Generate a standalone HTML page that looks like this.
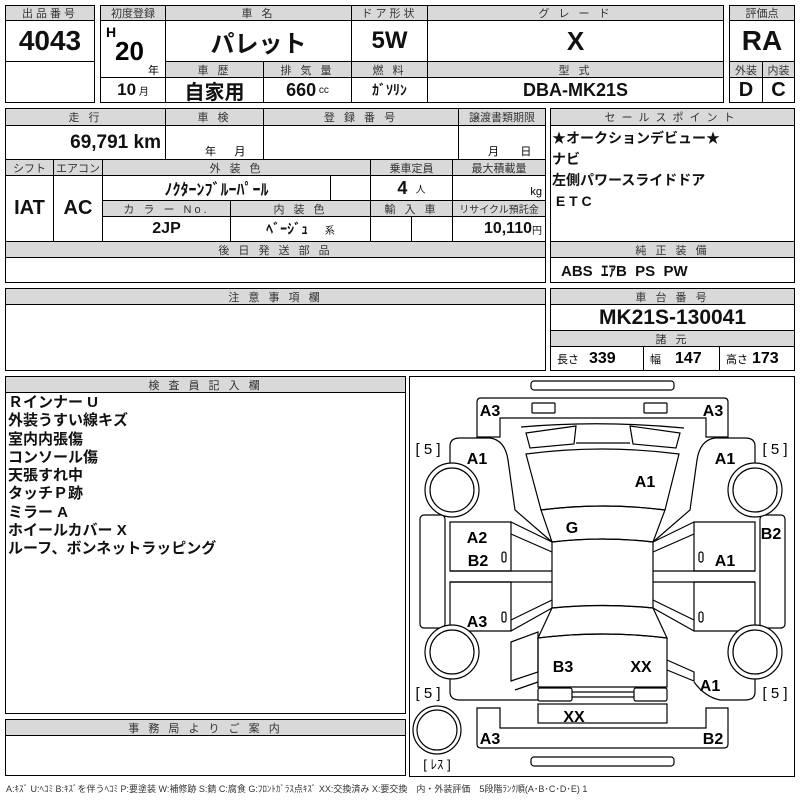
<!DOCTYPE html>
<html><head><meta charset="utf-8"><style>
body{margin:0;width:800px;height:800px;background:#fff;position:relative;overflow:hidden;font-family:"Liberation Sans","Noto Sans CJK JP",sans-serif;}
.c{position:absolute;border:1.5px solid #000;box-sizing:border-box;display:flex;align-items:center;justify-content:center;white-space:nowrap;}
.h{background:#d9d9d9;font-size:11px;color:#333;letter-spacing:3px;}
.v{font-weight:bold;font-size:20px;color:#111;}
.t{position:absolute;white-space:nowrap;}
.b{font-weight:bold;}
</style></head><body>
<!-- top left -->
<div class="c h" style="left:5px;top:5px;width:90px;height:16px">出品番号</div>
<div class="c v" style="left:5px;top:20px;width:90px;height:42px;font-size:28px">4043</div>
<div class="c" style="left:5px;top:61px;width:90px;height:42px"></div>
<!-- second box -->
<div class="c h" style="left:100px;top:5px;width:66px;height:16px;letter-spacing:0">初度登録</div>
<div class="c h" style="left:165px;top:5px;width:187px;height:16px">車 名</div>
<div class="c h" style="left:351px;top:5px;width:77px;height:16px">ドア形状</div>
<div class="c h" style="left:427px;top:5px;width:297px;height:16px">グ レ ー ド</div>
<div class="c" style="left:100px;top:20px;width:66px;height:58px"></div>
<div class="t b" style="left:106px;top:24px;font-size:14px">H</div>
<div class="t b" style="left:115px;top:36px;font-size:26px">20</div>
<div class="t" style="left:148px;top:62px;font-size:11px">年</div>
<div class="c v" style="left:165px;top:20px;width:187px;height:42px;font-size:24px">パレット</div>
<div class="c v" style="left:351px;top:20px;width:77px;height:42px;font-size:24px">5W</div>
<div class="c v" style="left:427px;top:20px;width:297px;height:42px;font-size:26px">X</div>
<div class="c h" style="left:165px;top:61px;width:99px;height:17px">車 歴</div>
<div class="c h" style="left:263px;top:61px;width:89px;height:17px">排 気 量</div>
<div class="c h" style="left:351px;top:61px;width:77px;height:17px">燃 料</div>
<div class="c h" style="left:427px;top:61px;width:297px;height:17px">型 式</div>
<div class="c v" style="left:100px;top:77px;width:66px;height:26px;font-size:17px">10<span style="font-size:10px;font-weight:normal">&nbsp;月</span></div>
<div class="c v" style="left:165px;top:77px;width:99px;height:26px;font-size:20px">自家用</div>
<div class="c v" style="left:263px;top:77px;width:89px;height:26px;font-size:18px">660<span style="font-size:10px;font-weight:normal">&nbsp;cc</span></div>
<div class="c v" style="left:351px;top:77px;width:77px;height:26px;font-size:14px">ｶﾞｿﾘﾝ</div>
<div class="c v" style="left:427px;top:77px;width:297px;height:26px;font-size:18px">DBA-MK21S</div>
<!-- score -->
<div class="c h" style="left:729px;top:5px;width:66px;height:16px;letter-spacing:0">評価点</div>
<div class="c v" style="left:729px;top:20px;width:66px;height:42px;font-size:28px">RA</div>
<div class="c h" style="left:729px;top:61px;width:34px;height:17px;letter-spacing:0">外装</div>
<div class="c h" style="left:762px;top:61px;width:33px;height:17px;letter-spacing:0">内装</div>
<div class="c v" style="left:729px;top:77px;width:34px;height:26px">D</div>
<div class="c v" style="left:762px;top:77px;width:33px;height:26px">C</div>
<!-- second block -->
<div class="c h" style="left:5px;top:108px;width:161px;height:18px">走 行</div>
<div class="c h" style="left:165px;top:108px;width:99px;height:18px">車 検</div>
<div class="c h" style="left:263px;top:108px;width:196px;height:18px">登 録 番 号</div>
<div class="c h" style="left:458px;top:108px;width:88px;height:18px;letter-spacing:0">譲渡書類期限</div>
<div class="c v" style="left:5px;top:125px;width:161px;height:35px;font-size:19px;justify-content:flex-end;padding-right:4px">69,791 km</div>
<div class="c" style="left:165px;top:125px;width:99px;height:35px"></div>
<div class="t" style="left:205px;top:143px;font-size:11px">年&nbsp;&nbsp;&nbsp;&nbsp;&nbsp;&nbsp;月</div>
<div class="c" style="left:263px;top:125px;width:196px;height:35px"></div>
<div class="c" style="left:458px;top:125px;width:88px;height:35px"></div>
<div class="t" style="left:488px;top:143px;font-size:11px">月&nbsp;&nbsp;&nbsp;&nbsp;&nbsp;&nbsp;&nbsp;日</div>
<div class="c h" style="left:5px;top:159px;width:49px;height:17px;letter-spacing:0">シフト</div>
<div class="c h" style="left:53px;top:159px;width:50px;height:17px;letter-spacing:0">エアコン</div>
<div class="c h" style="left:102px;top:159px;width:269px;height:17px">外 装 色</div>
<div class="c h" style="left:370px;top:159px;width:83px;height:17px;letter-spacing:0">乗車定員</div>
<div class="c h" style="left:452px;top:159px;width:94px;height:17px;letter-spacing:0">最大積載量</div>
<div class="c v" style="left:5px;top:175px;width:49px;height:67px">IAT</div>
<div class="c v" style="left:53px;top:175px;width:50px;height:67px">AC</div>
<div class="c v" style="left:102px;top:175px;width:229px;height:26px;font-size:16px">ﾉｸﾀｰﾝﾌﾞﾙｰﾊﾟｰﾙ</div>
<div class="c" style="left:330px;top:175px;width:41px;height:26px"></div>
<div class="c v" style="left:370px;top:175px;width:83px;height:26px;font-size:18px">4<span style="font-size:10px;font-weight:normal">&nbsp;&nbsp;&nbsp;人</span></div>
<div class="c" style="left:452px;top:175px;width:94px;height:26px;justify-content:flex-end;align-items:flex-end;font-size:11px;padding:0 3px 2px 0">kg</div>
<div class="c h" style="left:102px;top:200px;width:129px;height:17px">カ ラ ー No.</div>
<div class="c h" style="left:230px;top:200px;width:141px;height:17px">内 装 色</div>
<div class="c h" style="left:370px;top:200px;width:83px;height:17px">輸 入 車</div>
<div class="c h" style="left:452px;top:200px;width:94px;height:17px;letter-spacing:0;font-size:10px">リサイクル預託金</div>
<div class="c v" style="left:102px;top:216px;width:129px;height:26px;font-size:16px">2JP</div>
<div class="c v" style="left:230px;top:216px;width:141px;height:26px;font-size:14px">ﾍﾞｰｼﾞｭ<span style="font-size:10px;font-weight:normal">&nbsp;&nbsp;&nbsp;&nbsp;&nbsp;&nbsp;系</span></div>
<div class="c" style="left:370px;top:216px;width:42px;height:26px"></div>
<div class="c" style="left:411px;top:216px;width:42px;height:26px"></div>
<div class="c v" style="left:452px;top:216px;width:94px;height:26px;font-size:16px;justify-content:flex-end;padding-right:3px">10,110<span style="font-size:10px;font-weight:normal">円</span></div>
<div class="c h" style="left:5px;top:241px;width:541px;height:17px">後 日 発 送 部 品</div>
<div class="c" style="left:5px;top:257px;width:541px;height:26px"></div>
<!-- sales point -->
<div class="c h" style="left:550px;top:108px;width:245px;height:18px;letter-spacing:6px">セールスポイント</div>
<div class="c" style="left:550px;top:125px;width:245px;height:117px"></div>
<div class="t" style="left:552px;top:128px;font-size:14px;line-height:21px;font-weight:bold;color:#111">★オークションデビュー★<br>ナビ<br>左側パワースライドドア<br>&nbsp;E T C</div>
<div class="c h" style="left:550px;top:241px;width:245px;height:17px">純 正 装 備</div>
<div class="c v" style="left:550px;top:257px;width:245px;height:26px;font-size:15px;justify-content:flex-start;padding-left:10px">ABS&nbsp; ｴｱB&nbsp; PS&nbsp; PW</div>
<!-- notes -->
<div class="c h" style="left:5px;top:288px;width:541px;height:17px">注 意 事 項 欄</div>
<div class="c" style="left:5px;top:304px;width:541px;height:67px"></div>
<div class="c h" style="left:550px;top:288px;width:245px;height:17px">車 台 番 号</div>
<div class="c v" style="left:550px;top:304px;width:245px;height:27px;font-size:21px">MK21S-130041</div>
<div class="c h" style="left:550px;top:330px;width:245px;height:17px">諸 元</div>
<div class="c" style="left:550px;top:346px;width:94px;height:25px;justify-content:flex-start;padding-left:6px"><span style="font-size:11px">長さ</span><b style="font-size:16px;margin-left:10px">339</b></div>
<div class="c" style="left:643px;top:346px;width:77px;height:25px;justify-content:flex-start;padding-left:6px"><span style="font-size:11px">幅</span><b style="font-size:16px;margin-left:14px">147</b></div>
<div class="c" style="left:719px;top:346px;width:76px;height:25px;justify-content:flex-start;padding-left:6px"><span style="font-size:11px">高さ</span><b style="font-size:16px;margin-left:4px">173</b></div>
<!-- inspector -->
<div class="c h" style="left:5px;top:376px;width:401px;height:17px">検 査 員 記 入 欄</div>
<div class="c" style="left:5px;top:392px;width:401px;height:322px"></div>
<div class="t" style="left:8px;top:394px;font-size:15px;line-height:18.3px;font-weight:bold;color:#111">Ｒインナー U<br>外装うすい線キズ<br>室内内張傷<br>コンソール傷<br>天張すれ中<br>タッチＰ跡<br>ミラー A<br>ホイールカバー X<br>ルーフ、ボンネットラッピング</div>
<div class="c h" style="left:5px;top:719px;width:401px;height:17px">事 務 局 よ り ご 案 内</div>
<div class="c" style="left:5px;top:735px;width:401px;height:41px"></div>
<!-- diagram -->
<div class="c" style="left:409px;top:376px;width:386px;height:401px"></div>
<svg style="position:absolute;left:0;top:0" width="800" height="800" fill="none" stroke="#000" stroke-width="1.2">
<rect x="531" y="381" width="143" height="9" rx="3"/>
<path d="M477,437 L477,402 Q477,398 481,398 L724,398 Q728,398 728,402 L728,437 L706,437 L706,418 L500,418 L500,437 Z"/>
<rect x="532" y="403" width="23" height="10" rx="1"/>
<rect x="644" y="403" width="23" height="10" rx="1"/>
<path d="M521,427 Q600,420 684,428"/>
<path d="M526,433 L576,426 L574,444 L530,448 Z"/>
<path d="M630,426 L680,433 L676,448 L633,444 Z"/>
<path d="M576,443 L630,443"/>
<path d="M526,454 Q602,444 679,454 L665,510 Q603,502 541,510 Z"/>
<path d="M541,510 Q603,502 665,510 L653,542 Q603,536 552,542 Z"/>
<path d="M552,542 Q603,536 653,542 L653,608 Q603,603 552,608 Z"/>
<path d="M552,608 Q603,603 653,608 L667,638 Q603,630 538,638 Z"/>
<path d="M538,638 Q603,630 667,638 L667,687 L538,687 Z"/>
<rect x="538" y="688" width="34" height="13" rx="2"/>
<rect x="634" y="688" width="33" height="13" rx="2"/>
<path d="M572,692 L634,692 M572,697 L634,697"/>
<rect x="538" y="704" width="129" height="19"/>
<path d="M477,708 L477,744 Q477,748 481,748 L724,748 Q728,748 728,744 L728,708 L706,708 L706,728 L500,728 L500,708 Z"/>
<rect x="531" y="757" width="143" height="9" rx="3"/>
<!-- left side -->
<path d="M450,463 L450,446 Q450,438 460,438 L490,438 Q505,440 508,460 L515,510 L552,542"/>
<path d="M450,522 L511,522 L511,571 L450,571 Z"/>
<path d="M511,522 L552,542 M511,534 L552,552"/>
<path d="M450,571 L552,571 M450,582 L552,582"/>
<path d="M450,582 L511,582 L511,631 L450,631 Z"/>
<path d="M511,631 L552,608 M511,620 L552,600"/>
<path d="M511,642 L538,632 L538,672 L511,681 Z"/>
<path d="M450,675 L450,692 Q450,700 460,700 L538,700 M515,690 L538,682"/>
<rect x="420" y="515" width="25" height="113" rx="4"/>
<!-- right side -->
<path d="M755,463 L755,446 Q755,438 745,438 L715,438 Q700,440 697,460 L690,510 L653,542"/>
<path d="M755,522 L694,522 L694,571 L755,571 Z"/>
<path d="M694,522 L653,542 M694,534 L653,552"/>
<path d="M755,571 L653,571 M755,582 L653,582"/>
<path d="M755,582 L694,582 L694,631 L755,631 Z"/>
<path d="M694,631 L653,608 M694,620 L653,600"/>
<path d="M667,660 L694,672 L694,681 L667,670"/>
<path d="M755,675 L755,692 Q755,700 745,700 L720,700 Q705,697 694,682"/>
<rect x="760" y="515" width="25" height="113" rx="4"/>
<rect x="502" y="552" width="4" height="10" rx="2"/>
<rect x="502" y="612" width="4" height="10" rx="2"/>
<rect x="699" y="552" width="4" height="10" rx="2"/>
<rect x="699" y="612" width="4" height="10" rx="2"/>
<g fill="#fff">
<circle cx="452" cy="490" r="27"/><circle cx="452" cy="490" r="22"/>
<circle cx="452" cy="652" r="27"/><circle cx="452" cy="652" r="22"/>
<circle cx="755" cy="490" r="27"/><circle cx="755" cy="490" r="22"/>
<circle cx="755" cy="652" r="27"/><circle cx="755" cy="652" r="22"/>
<circle cx="437" cy="730" r="24"/><circle cx="437" cy="730" r="20"/>
</g>
<g fill="#000" stroke="none" font-family="Liberation Sans,sans-serif" font-weight="bold" font-size="16" text-anchor="middle">
<text x="490" y="416">A3</text><text x="713" y="416">A3</text>
<text x="477" y="464">A1</text><text x="725" y="464">A1</text>
<text x="645" y="487">A1</text><text x="572" y="533">G</text>
<text x="477" y="543">A2</text><text x="478" y="566">B2</text>
<text x="725" y="566">A1</text><text x="771" y="539">B2</text>
<text x="477" y="627">A3</text>
<text x="563" y="672">B3</text><text x="641" y="672">XX</text>
<text x="710" y="691">A1</text><text x="574" y="722">XX</text>
<text x="490" y="744">A3</text><text x="713" y="744">B2</text>
<text x="428" y="454" font-weight="normal" font-size="15">[ 5 ]</text>
<text x="775" y="454" font-weight="normal" font-size="15">[ 5 ]</text>
<text x="428" y="698" font-weight="normal" font-size="15">[ 5 ]</text>
<text x="775" y="698" font-weight="normal" font-size="15">[ 5 ]</text>
<text x="437" y="769" font-weight="normal" font-size="13">[ ﾚｽ ]</text>
</g>
</svg>
<div class="t" style="left:6px;top:782px;font-size:9px;color:#333">A:ｷｽﾞ U:ﾍｺﾐ B:ｷｽﾞを伴うﾍｺﾐ P:要塗装 W:補修跡 S:錆 C:腐食 G:ﾌﾛﾝﾄｶﾞﾗｽ点ｷｽﾞ XX:交換済み X:要交換　内・外装評価　5段階ﾗﾝｸ順(A･B･C･D･E) 1</div>
</body></html>
